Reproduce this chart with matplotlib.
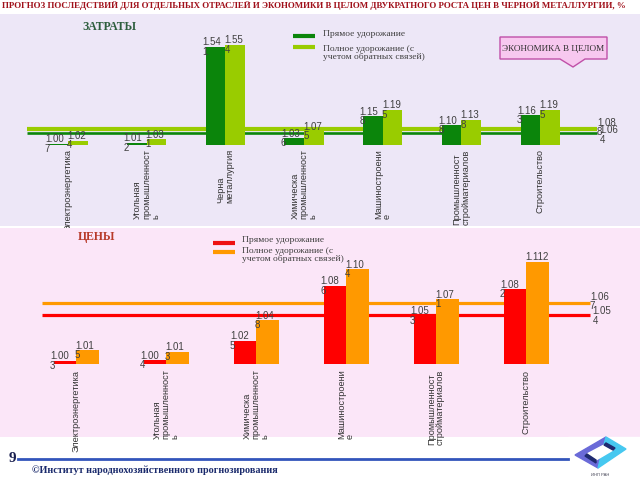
import numpy as np
import matplotlib
matplotlib.use('Agg')
import matplotlib.pyplot as plt
from matplotlib.patches import Polygon, Rectangle

# ───────── DATA ─────────
cost_cats = ['Электроэнергетика', 'Угольная\nпромышленност\nь', 'Черна\nметаллургия',
             'Химическа\nпромышленност\nь', 'Машиностроени\nе',
             'Промышленност\nстройматериалов', 'Строительство']
cost_direct = [1.007, 1.012, 1.541, 1.036, 1.158, 1.108, 1.163]
cost_full   = [1.024, 1.031, 1.554, 1.075, 1.195, 1.138, 1.195]
cost_econ_direct = 1.064
cost_econ_full   = 1.088

price_cats = ['Электроэнергетика', 'Угольная\nпромышленност\nь',
              'Химическа\nпромышленност\nь', 'Машиностроени\nе',
              'Промышленност\nстройматериалов', 'Строительство']
price_direct = [1.003, 1.004, 1.025, 1.086, 1.053, 1.082]
price_full   = [1.015, 1.013, 1.048, 1.104, 1.071, 1.112]
price_econ_direct = 1.054
price_econ_full   = 1.067

title = ('ПРОГНОЗ ПОСЛЕДСТВИЙ ДЛЯ ОТДЕЛЬНЫХ ОТРАСЛЕЙ И ЭКОНОМИКИ В ЦЕЛОМ '
         'ДВУКРАТНОГО РОСТА ЦЕН В ЧЕРНОЙ МЕТАЛЛУРГИИ, %')
leg_direct = 'Прямое удорожание'
leg_full   = 'Полное удорожание (с\nучетом обратных связей)'
# ────────────────────────

W, H = 640, 480
SANS = 'Liberation Sans'
SERIF = 'Liberation Serif'
LBL = '#404040'

fig = plt.figure(figsize=(6.4, 4.8), dpi=100)
fig.patch.set_facecolor('white')


def px_axes(x0, y0, x1, y1, **kw):
    # axes placed by pixel box (top-left origin)
    return fig.add_axes([x0 / W, 1 - y1 / H, (x1 - x0) / W, (y1 - y0) / H], **kw)


def value_label(v):
    s = f'{v:.3f}'
    # the cell is wide enough for "1.112", the rest wrap onto two lines
    return s if s == '1.112' else s[:4] + '\n' + s[4:]


def draw_panel(ax, cats, direct, full, econ_d, econ_f, c_d, c_f,
               lw_f, lw_d, line_x, econ_x, cat_off):
    x = np.arange(len(cats))
    w = 0.25
    ax.plot(line_x, [econ_f, econ_f], color=c_f, lw=lw_f, zorder=1, solid_capstyle='butt')
    ax.plot(line_x, [econ_d, econ_d], color=c_d, lw=lw_d, zorder=1, solid_capstyle='butt')
    ax.bar(x - w / 2, np.array(direct) - 1, w, bottom=1, color=c_d, zorder=2)
    ax.bar(x + w / 2, np.array(full) - 1, w, bottom=1, color=c_f, zorder=2)
    for xi, v in zip(x, direct):
        ax.annotate(value_label(v), (xi - w, v), xytext=(-2.5, 0), textcoords='offset points',
                    ha='left', va='center', fontsize=7, family=SANS, color=LBL,
                    linespacing=0.95, zorder=3)
    for xi, v in zip(x, full):
        lab = value_label(v)
        ax.annotate(lab, (xi, v), xytext=(-0.7, 0), textcoords='offset points',
                    ha='left', va='center' if '\n' in lab else 'bottom',
                    fontsize=7, family=SANS, color=LBL, linespacing=0.95, zorder=3)
    ax.annotate(value_label(econ_f), (econ_x, econ_f), xytext=(0, 1), textcoords='offset points',
                ha='left', va='center', fontsize=7, family=SANS, color=LBL, linespacing=0.95)
    ax.annotate(value_label(econ_d), (econ_x, econ_d), xytext=(2, -1), textcoords='offset points',
                ha='left', va='center', fontsize=7, family=SANS, color=LBL, linespacing=0.95)
    for xi, c in zip(x, cats):
        t = ax.annotate(c, (xi, 1.0), xytext=(0, cat_off), textcoords='offset points',
                        ha='center', va='top', rotation=90, multialignment='left',
                        fontsize=6.6, family=SANS, color='#333333', linespacing=1.0)
        t.set_clip_on(True)
    ax.set_axis_off()


# ─── Top panel: ЗАТРАТЫ ───
ax1 = px_axes(0, 14, 640, 226)
bg1 = Rectangle((0, 0), 1, 1, transform=ax1.transAxes, color='#ede7f7', zorder=0)
ax1.add_patch(bg1)
sx, x0, sy, y0 = 78.7, 68, 181.0, 145
ax1.set_xlim(-x0 / sx, (W - x0) / sx)
ax1.set_ylim(1 - (226 - y0) / sy, 1 + (y0 - 14) / sy)
draw_panel(ax1, cost_cats, cost_direct, cost_full, cost_econ_direct, cost_econ_full,
           '#0b850b', '#99cc00', 3.0, 1.9, [-0.52, 6.72], 6.72, -3)

# ─── Bottom panel: ЦЕНЫ ───
ax2 = px_axes(0, 228, 640, 437)
bg2 = Rectangle((0, 0), 1, 1, transform=ax2.transAxes, color='#fbe6f8', zorder=0)
ax2.add_patch(bg2)
sx, x0, sy, y0 = 90.0, 76, 910.0, 364
ax2.set_xlim(-x0 / sx, (W - x0) / sx)
ax2.set_ylim(1 - (437 - y0) / sy, 1 + (y0 - 228) / sy)
draw_panel(ax2, price_cats, price_direct, price_full, price_econ_direct, price_econ_full,
           '#ff0000', '#ff9900', 2.3, 2.3, [-0.38, 5.71], 5.71, -4)

# ─── Overlay for slide furniture ───
ov = fig.add_axes([0, 0, 1, 1])
ov.set_xlim(0, W)
ov.set_ylim(H, 0)
ov.set_axis_off()
ov.patch.set_alpha(0)

ov.text(314, 6, title, ha='center', va='center', fontsize=6.4, family=SERIF,
        weight='bold', color='#a0101a')
ov.text(82, 27, 'ЗАТРАТЫ', ha='left', va='center', fontsize=8.5, family=SERIF,
        weight='bold', color='#2e5e3e')
ov.text(78, 237, 'ЦЕНЫ', ha='left', va='center', fontsize=8.5, family=SERIF,
        weight='bold', color='#b83a2a')

# legends
for (x_a, x_b, x_t, y_d, y_f, yt_d, yt_f, c_d, c_f) in [
        (293, 315, 323, 36, 47, 34, 53, '#0b850b', '#99cc00'),
        (213, 235, 242, 243, 252, 240, 255, '#ee1111', '#ff9900')]:
    ov.plot([x_a, x_b], [y_d, y_d], color=c_d, lw=3, solid_capstyle='butt')
    ov.plot([x_a, x_b], [y_f, y_f], color=c_f, lw=3, solid_capstyle='butt')
    ov.text(x_t, yt_d, leg_direct, ha='left', va='center', fontsize=6.8, family=SERIF, color='#404040')
    ov.text(x_t, yt_f, leg_full, ha='left', va='center', fontsize=6.8, family=SERIF,
            color='#404040', linespacing=1.05)

# callout
call = Polygon([(500, 37), (607, 37), (607, 59), (585, 59), (573, 67), (560, 59), (500, 59)],
               closed=True, facecolor='#f7c8ef', edgecolor='#c050a8', lw=1)
ov.add_patch(call)
ov.text(553, 49, 'ЭКОНОМИКА В ЦЕЛОМ', ha='center', va='center', fontsize=6.6,
        family=SERIF, color='#303030')

# footer
ov.plot([18, 568], [459, 459], color='#3355bb', lw=2)
ov.text(12, 459, '9', ha='center', va='center', fontsize=11, family=SERIF,
        weight='bold', color='#1a2050')
ov.text(32, 470, '©Институт народнохозяйственного прогнозирования', ha='left',
        va='center', fontsize=7.3, family=SERIF, weight='bold', color='#1a2a6c')

# logo
ov.add_patch(Rectangle((568, 437), 72, 43, color='white'))
ov.add_patch(Polygon([(575, 455), (606, 437), (598, 468)], color='#6a6ad8'))
ov.add_patch(Polygon([(606, 437), (626, 449), (598, 468)], color='#46c8f0'))
ov.add_patch(Polygon([(587, 454), (604, 445), (613, 450), (596, 460)], color='white'))
ov.add_patch(Polygon([(587, 454), (596, 460), (596, 463), (585, 456)], color='#1f2a70'))
ov.add_patch(Polygon([(604, 445), (613, 450), (615, 448), (606, 443)], color='#1f2a70'))
ov.text(600, 475, 'ИНП РАН', ha='center', va='center', fontsize=3, family=SANS, color='#445')

fig.savefig('out.png', dpi=100)
